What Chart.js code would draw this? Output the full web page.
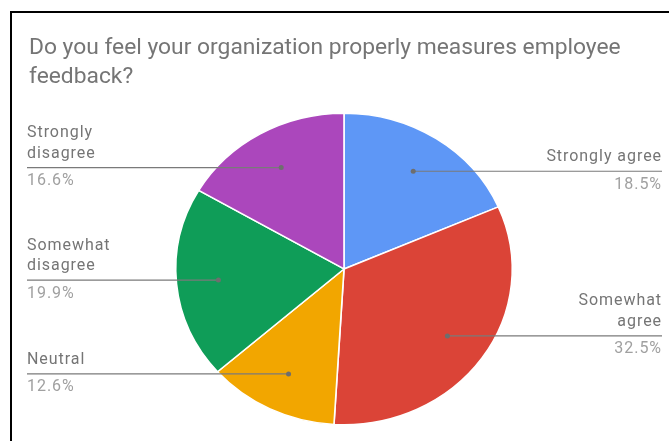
<!DOCTYPE html>
<html>
<head>
<meta charset="utf-8">
<script src="https://cdn.jsdelivr.net/npm/chart.js@4.4.1/dist/chart.umd.min.js"></script>
<style>
  html, body { margin: 0; padding: 0; background: #fff; }
  #frame { position: absolute; left: 10px; top: 11px; width: 680px; height: 450px;
           border-left: 2px solid #000; border-top: 2px solid #000; }
  #wrap { position: absolute; left: 0; top: 0; width: 669px; height: 441px; }
</style>
</head>
<body>
<div id="frame"></div>
<div id="wrap"><canvas id="pie_chart"></canvas></div>
<script>
// Données du graphique (sens horaire depuis midi)
var categories = [
	['Strongly agree'],
	['Somewhat', 'agree'],
	['Neutral'],
	['Somewhat', 'disagree'],
	['Strongly', 'disagree']
];
var values = [18.5, 32.5, 12.6, 19.9, 16.6];
var colors = ['#5e97f6', '#db4437', '#f2a600', '#0f9d58', '#ab47bc'];
var title_lines = ['Do you feel your organization properly measures employee', 'feedback?'];

var stretch_x = 1.08; // la tarte de la référence est légèrement ovale

// Étire la tarte horizontalement autour de son centre
var stretch_plugin = {
	id: 'stretch',
	beforeDatasetsDraw: function(chart) {
		var arc = chart.getDatasetMeta(0).data[0];
		var ctx = chart.ctx;
		ctx.save();
		ctx.translate(arc.x, arc.y);
		ctx.scale(stretch_x, 1);
		ctx.translate(-arc.x, -arc.y);
	},
	afterDatasetsDraw: function(chart) {
		chart.ctx.restore();
	}
};

// Étiquettes avec lignes de rappel, façon Google Sheets
var labels_plugin = {
	id: 'side_labels',
	afterDraw: function(chart) {
		var ctx = chart.ctx;
		var meta = chart.getDatasetMeta(0);
		var total = values.reduce(function(a, b) { return a + b; }, 0);
		ctx.save();
		ctx.font = '16px Roboto';
		ctx.letterSpacing = '0.95px';
		ctx.textBaseline = 'middle';
		meta.data.forEach(function(arc, i) {
			var mid = (arc.startAngle + arc.endAngle) / 2;
			var r = arc.outerRadius * 0.75;
			var ax = arc.x + Math.cos(mid) * r * stretch_x;
			var ay = arc.y + Math.sin(mid) * r;
			var right = Math.cos(mid) > 0;
			var edge = right ? 662 : 27;

			// ligne de rappel
			ctx.strokeStyle = '#7a7a7a';
			ctx.lineWidth = 1.2;
			ctx.beginPath();
			ctx.moveTo(ax, ay);
			ctx.lineTo(edge, ay);
			ctx.stroke();
			ctx.fillStyle = '#6e6e6e';
			ctx.beginPath();
			ctx.arc(ax, ay, 2.5, 0, Math.PI * 2);
			ctx.fill();

			// texte
			ctx.textAlign = right ? 'right' : 'left';
			var tx = right ? edge : edge;
			var lines = categories[i];
			ctx.fillStyle = '#757575';
			lines.forEach(function(line, j) {
				ctx.fillText(line, tx, ay - 14 - (lines.length - 1 - j) * 20.5);
			});
			ctx.fillStyle = '#a0a0a0';
			ctx.fillText((values[i] / total * 100).toFixed(1) + '%', tx, ay + 13.5);
		});
		ctx.restore();
	}
};

var pie_ctx = document.getElementById('pie_chart');
var pie_chart = new Chart(pie_ctx, {
	type: 'pie',
	data: {
		labels: categories,
		datasets: [{
			data: values,
			backgroundColor: colors,
			borderColor: '#ffffff',
			borderWidth: 1.5,
			clip: false
		}]
	},
	options: {
		responsive: true,
		maintainAspectRatio: false,
		animation: false,
		layout: { padding: { left: 29, right: 10, top: 0, bottom: 15.5 } },
		plugins: {
			legend: { display: false },
			tooltip: { enabled: false },
			title: {
				display: true,
				text: title_lines,
				align: 'start',
				color: '#757575',
				font: { family: 'Roboto', size: 22.8, weight: 'normal', lineHeight: 1.27 },
				padding: { top: 34, bottom: 20.5 }
			}
		}
	},
	plugins: [stretch_plugin, labels_plugin]
});
</script>
</body>
</html>
